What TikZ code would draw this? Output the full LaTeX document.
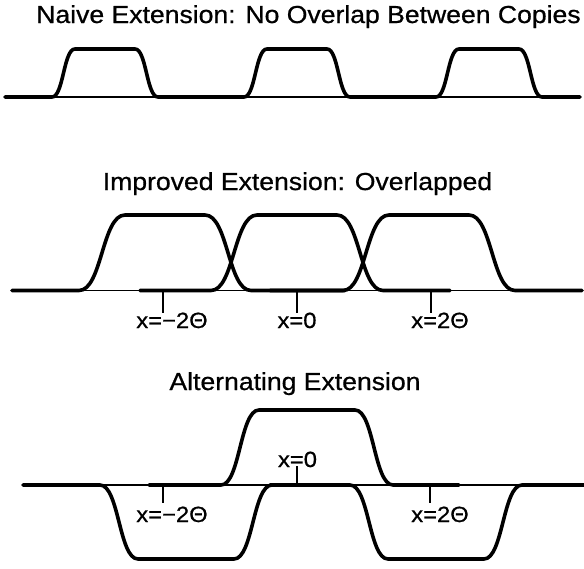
\documentclass[tikz,border=0pt]{standalone}
\usepackage{fontspec}
\setmainfont[FakeStretch=1.08,FakeBold=0.7]{Liberation Sans}
\tikzset{
  curve/.style={line width=3.6pt, line cap=round, line join=round},
  axisline/.style={line width=1.1pt},
  tickline/.style={line width=1.3pt},
  ttl/.style={font=\fontsize{24.6}{28}\selectfont, anchor=base, inner sep=0pt},
  lbl/.style={font=\fontsize{22}{26}\selectfont, anchor=base, inner sep=0pt}
}
% #1 tail start, #2 centre, #3 foot half-width, #4 top half-width, #5 height (signed), #6 tail end, #7 baseline y
\newcommand{\drawcopy}[7]{%
  \pgfmathsetmacro{\cmid}{(#3+#4)/2}%
  \pgfmathsetmacro{\ytop}{#7-(#5)}%
  \draw[curve] (#1,#7) -- ({#2-#3},#7)
    .. controls ({#2-\cmid},#7) and ({#2-\cmid},\ytop) .. ({#2-#4},\ytop)
    -- ({#2+#4},\ytop)
    .. controls ({#2+\cmid},\ytop) and ({#2+\cmid},#7) .. ({#2+#3},#7)
    -- (#6,#7);
}
\begin{document}
\begin{tikzpicture}[x=1pt,y=-1pt]
\fill[white] (0,0) rectangle (584,568);
\useasboundingbox (0,0) rectangle (584,568);

% ---------- Panel 1 ----------
\node[ttl] (t1) at (308.5,23) {Naive Extension: No Overlap Between Copies};
\draw[axisline] (5,97) -- (580,97);
\drawcopy{5}{105}{53}{30}{48}{201}{97}
\drawcopy{201}{297}{53}{30}{48}{393}{97}
\drawcopy{393}{489}{53}{30}{48}{580}{97}

% ---------- Panel 2 ----------
\node[ttl] (t2) at (297.5,190) {Improved Extension: Overlapped};
\draw[axisline] (12,290.5) -- (582,290.5);
\drawcopy{12}{165}{86}{40}{75.5}{345}{290.5}
\drawcopy{140}{297}{86}{40}{75.5}{450}{290.5}
\drawcopy{270}{429}{86}{40}{75.5}{582}{290.5}
\draw[tickline] (163,290.5) -- (163,313);
\draw[tickline] (297,290.5) -- (297,313);
\draw[tickline] (431,290.5) -- (431,313);
\node[lbl] (l2a) at (172,328) {x=−2Θ};
\node[lbl] (l2b) at (297,328) {x=0};
\node[lbl] (l2c) at (440,328) {x=2Θ};

% ---------- Panel 3 ----------
\node[ttl] (t3) at (295,390) {Alternating Extension};
\draw[axisline] (23,485) -- (584,485);
\drawcopy{23}{186}{86}{48}{-74}{345}{485}
\drawcopy{149}{307}{86}{48}{75}{459}{485}
\drawcopy{270}{436}{86}{48}{-74}{584}{485}
\draw[tickline] (297,485) -- (297,466);
\draw[tickline] (163,485) -- (163,503);
\draw[tickline] (430,485) -- (430,503);
\node[lbl] (l3b) at (297.5,467) {x=0};
\node[lbl] (l3a) at (172,522) {x=−2Θ};
\node[lbl] (l3c) at (440,522) {x=2Θ};
\end{tikzpicture}
\end{document}
